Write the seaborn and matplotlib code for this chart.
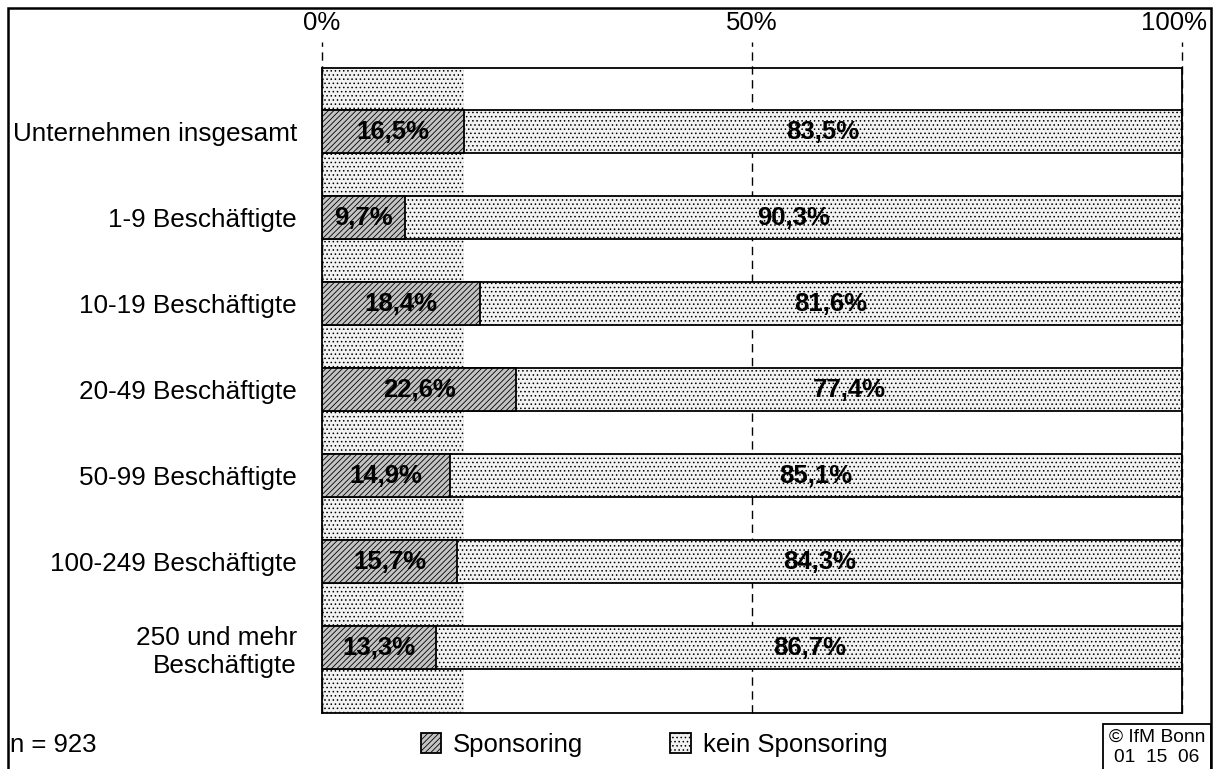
import numpy as np
import pandas as pd
import seaborn as sns
import matplotlib.pyplot as plt
from matplotlib.patches import Rectangle, Patch
from matplotlib.transforms import ScaledTranslation

categories = ["Unternehmen insgesamt", "1-9 Beschäftigte", "10-19 Beschäftigte",
              "20-49 Beschäftigte", "50-99 Beschäftigte", "100-249 Beschäftigte",
              "250 und mehr\nBeschäftigte"]
sponsoring = [16.5, 9.7, 18.4, 22.6, 14.9, 15.7, 13.3]
kein_sponsoring = [83.5, 90.3, 81.6, 77.4, 85.1, 84.3, 86.7]
x_ticks = [0, 50, 100]
x_labels = ["0%", "50%", "100%"]

sns.set_style("white")
plt.rcParams["font.family"] = ["Liberation Sans", "DejaVu Sans"]
plt.rcParams["hatch.linewidth"] = 0.6
for key in ["text.color", "axes.labelcolor", "xtick.color", "ytick.color"]:
    plt.rcParams[key] = "black"

df = pd.DataFrame({"cat": categories, "s": sponsoring, "k": kein_sponsoring})
df["total"] = df["s"] + df["k"]

fig = plt.figure(figsize=(12.14, 7.69), dpi=100)
ax = fig.add_axes([322/1214, 1-713/769, 860/1214, 645/769])

S_FACE, S_HATCH = "#c4c4c4", "//////"
K_FACE, K_HATCH = "#f2f2f2", "...."

sns.barplot(data=df, x="total", y="cat", orient="h", width=0.5, ax=ax)
n1 = len(ax.patches)
sns.barplot(data=df, x="s", y="cat", orient="h", width=0.5, ax=ax)
for i, p in enumerate(ax.patches):
    if i < n1:
        p.set(facecolor=K_FACE, hatch=K_HATCH, edgecolor="black", linewidth=1.3, zorder=3)
    else:
        p.set(facecolor=S_FACE, hatch=S_HATCH, edgecolor="black", linewidth=1.3, zorder=4)

# background band with the overall share
ax.axvspan(0, sponsoring[0], facecolor=K_FACE, hatch=K_HATCH, edgecolor="black",
           linewidth=0, zorder=0.5)

ax.set_ylim(6.756, -0.744)
ax.set_xlim(0, 100)
for xv in x_ticks:
    ax.axvline(xv, ymin=0, ymax=(713-42)/645, color="black", lw=1,
               ls=(0, (6, 4)), clip_on=False, zorder=1)

ax.xaxis.tick_top()
ax.set_xticks(x_ticks, x_labels)
ax.tick_params(axis="x", length=0, pad=24, labelsize=18.5, labelcolor="black")
ax.tick_params(axis="y", length=0, pad=18, labelsize=18.8, labelcolor="black")
lab100 = ax.get_xticklabels()[-1]
lab100.set_transform(lab100.get_transform() + ScaledTranslation(-0.08, 0, fig.dpi_scale_trans))
ax.set_xlabel("")
ax.set_ylabel("")
for sp in ax.spines.values():
    sp.set_visible(True)
    sp.set_color("black")
    sp.set_linewidth(1.3)
    sp.set_zorder(5)

for i, (s, k) in enumerate(zip(sponsoring, kein_sponsoring)):
    ax.text(s/2, i, f"{s:.1f}%".replace(".", ","), ha="center", va="center",
            fontsize=18.5, fontweight="bold", color="black", zorder=6)
    ax.text(s + k/2, i, f"{k:.1f}%".replace(".", ","), ha="center", va="center",
            fontsize=18.5, fontweight="bold", color="black", zorder=6)

handles = [Patch(facecolor=S_FACE, hatch=S_HATCH, edgecolor="black", linewidth=1.3),
           Patch(facecolor=K_FACE, hatch=K_HATCH, edgecolor="black", linewidth=1.3)]
fig.legend(handles, ["Sponsoring", "kein Sponsoring"], loc="center",
           bbox_to_anchor=(654/1214, 1-745/769), ncol=2, frameon=False,
           fontsize=18.5, handlelength=0.8, handleheight=0.8,
           handletextpad=0.45, columnspacing=3.4)

fig.text(10/1214, 1-745/769, "n = 923", ha="left", va="center", fontsize=18.5)

# figure border and copyright box
fig.add_artist(Rectangle((8/1214, -0.05), (1211-8)/1214, 0.05 + 1 - 8/769,
                         transform=fig.transFigure, fill=False, lw=1.8, color="black"))
fig.add_artist(Rectangle((1103/1214, -0.05), (1211-1103)/1214, 0.05 + 1 - 724/769,
                         transform=fig.transFigure, fill=False, lw=1.3, color="black"))
fig.text(1157/1214, 1-737/769, "© IfM Bonn", ha="center", va="center", fontsize=13.8)
fig.text(1157/1214, 1-757/769, "01  15  06", ha="center", va="center", fontsize=13.8)

fig.savefig("out.png", dpi=100)
